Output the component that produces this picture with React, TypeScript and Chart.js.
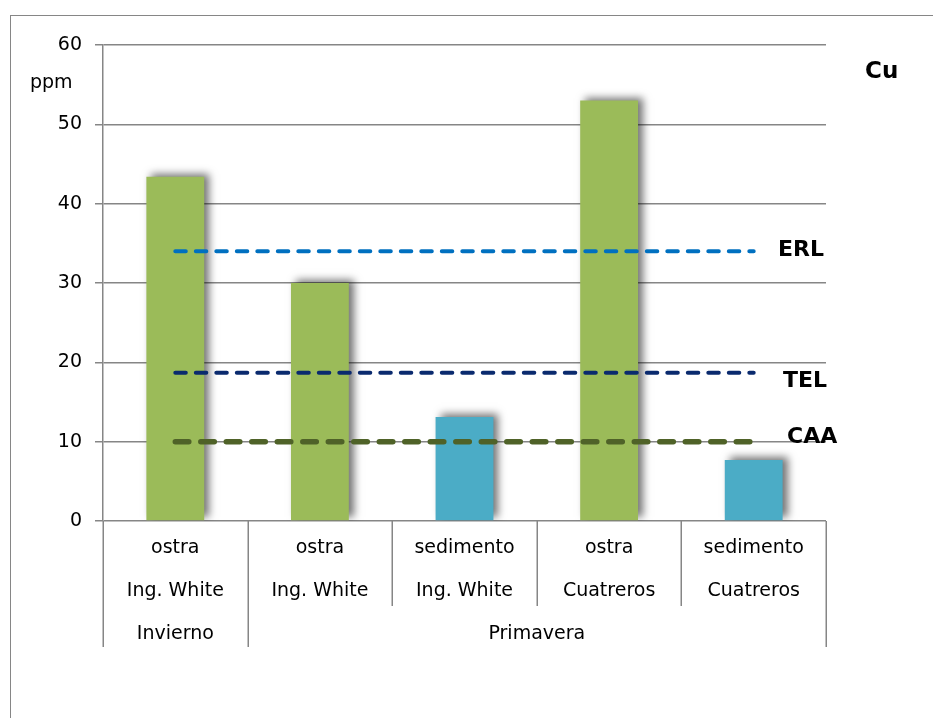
import React, { useEffect, useRef } from "react";
import { Chart, registerables } from "chart.js";

Chart.register(...registerables);

// ---- data ----
const sampleTypes = ["ostra", "ostra", "sedimento", "ostra", "sedimento"];
const sites = ["Ing. White", "Ing. White", "Ing. White", "Cuatreros", "Cuatreros"];
const seasons = ["Invierno", "Primavera"];
const seasonSpans = [1, 4];
const cuValues = [43.4, 30.0, 13.1, 53.0, 7.7];
const barColors = ["#9BBB59", "#9BBB59", "#4BACC6", "#9BBB59", "#4BACC6"];
const erlValues = [34, 34, 34, 34, 34];
const telValues = [18.7, 18.7, 18.7, 18.7, 18.7];
const caaValues = [10, 10, 10, 10, 10];
const yMin = 0;
const yMax = 60;
const yStep = 10;
const elementLabel = "Cu";
const unitLabel = "ppm";

const FONT = "'DejaVu Sans', Verdana, sans-serif";
const GRID = "#868686";

const lineLabelOffsets: Record<string, number> = { ERL: 5, TEL: 14, CAA: 1 };
const lineLabelX: Record<string, number> = { ERL: 778, TEL: 783, CAA: 787 };

const barShadowPlugin = {
  id: "barShadow",
  beforeDatasetDraw(chart: any, args: any) {
    const ds = chart.data.datasets[args.index];
    if (ds.type === "bar") {
      const ctx = chart.ctx;
      ctx.save();
      ctx.shadowColor = "rgba(0,0,0,0.55)";
      ctx.shadowBlur = 8;
      ctx.shadowOffsetX = 5;
      ctx.shadowOffsetY = -3;
    }
  },
  afterDatasetDraw(chart: any, args: any) {
    const ds = chart.data.datasets[args.index];
    if (ds.type === "bar") {
      chart.ctx.restore();
    }
  },
};

const decorPlugin = {
  id: "decor",
  beforeDraw(chart: any) {
    const ctx = chart.ctx;
    ctx.save();
    ctx.fillStyle = "#ffffff";
    ctx.fillRect(0, 0, chart.width, chart.height);
    ctx.strokeStyle = GRID;
    ctx.lineWidth = 1;
    ctx.strokeRect(10.5, 15.5, 3000, 3000);
    ctx.restore();
  },
  afterDraw(chart: any) {
    const ctx = chart.ctx;
    const xs = chart.scales.x;
    const ys = chart.scales.y;
    const top = xs.top;
    ctx.save();
    // separators of the multi-level category axis
    ctx.strokeStyle = GRID;
    ctx.lineWidth = 1.5;
    const groupBounds: number[] = [0];
    seasonSpans.forEach((s) => groupBounds.push(groupBounds[groupBounds.length - 1] + s));
    for (let i = 0; i <= sampleTypes.length; i++) {
      const px = Math.round(xs.getPixelForValue(i - 0.5)) + 0.25;
      const tall = groupBounds.includes(i);
      ctx.beginPath();
      ctx.moveTo(px, top);
      ctx.lineTo(px, top + (tall ? 126 : 85));
      ctx.stroke();
    }
    // season row
    ctx.fillStyle = "#000";
    ctx.font = `19px ${FONT}`;
    ctx.textAlign = "center";
    ctx.textBaseline = "middle";
    seasons.forEach((s, k) => {
      const a = xs.getPixelForValue(groupBounds[k] - 0.5);
      const b = xs.getPixelForValue(groupBounds[k + 1] - 0.5);
      ctx.fillText(s, (a + b) / 2, top + 6 + 43 * 2.5);
    });
    // unit label
    ctx.textAlign = "left";
    ctx.textBaseline = "alphabetic";
    ctx.font = `19px ${FONT}`;
    ctx.fillText(unitLabel, 30, 88);
    // element label
    ctx.font = `bold 23px ${FONT}`;
    ctx.fillText(elementLabel, 865, 78);
    // reference line labels
    ctx.font = `bold 22px ${FONT}`;
    chart.data.datasets.forEach((ds: any) => {
      if (ds.type !== "line") return;
      const yv = ys.getPixelForValue(ds.data[ds.data.length - 1]);
      ctx.fillText(ds.label, lineLabelX[ds.label] ?? 780, yv + (lineLabelOffsets[ds.label] ?? 5));
    });
    ctx.restore();
  },
};

export default function App() {
  const ref = useRef<HTMLCanvasElement | null>(null);
  useEffect(() => {
    if (!ref.current) return;
    const labels = sampleTypes.map((t, i) => [t, sites[i]]);
    const chart = new Chart(ref.current, {
      type: "bar",
      data: {
        labels,
        datasets: [
          {
            type: "line",
            label: "ERL",
            data: erlValues,
            borderColor: "#0070C0",
            borderWidth: 4,
            borderDash: [10.5, 10],
            borderCapStyle: "round",
            pointRadius: 0,
            fill: false,
            order: 0,
          } as any,
          {
            type: "line",
            label: "TEL",
            data: telValues,
            borderColor: "#0A2A6E",
            borderWidth: 4,
            borderDash: [10.5, 10],
            borderCapStyle: "round",
            pointRadius: 0,
            fill: false,
            order: 0,
          } as any,
          {
            type: "line",
            label: "CAA",
            data: caaValues,
            borderColor: "#4F6228",
            borderWidth: 5.5,
            borderDash: [13.5, 12],
            borderCapStyle: "round",
            pointRadius: 0,
            fill: false,
            order: 0,
          } as any,
          {
            type: "bar",
            label: elementLabel,
            data: cuValues,
            backgroundColor: barColors,
            borderWidth: 0,
            barPercentage: 0.4,
            categoryPercentage: 1,
            order: 1,
          } as any,
        ],
      },
      options: {
        responsive: false,
        animation: false,
        devicePixelRatio: 1,
        layout: { padding: { top: 45, right: 107, left: 0, bottom: 0 } },
        plugins: { legend: { display: false }, tooltip: { enabled: false } },
        scales: {
          x: {
            type: "category",
            grid: { display: false, drawTicks: false },
            border: { display: false },
            ticks: {
              color: "#000",
              font: { family: FONT, size: 19, lineHeight: "43px" } as any,
              padding: 6,
              maxRotation: 0,
              autoSkip: false,
            },
            afterFit: (s: any) => {
              s.height = 197;
            },
          },
          y: {
            min: yMin,
            max: yMax,
            grid: { color: GRID, lineWidth: 1.5, tickLength: 8, drawTicks: true },
            border: { display: true, color: GRID, width: 1.5 },
            ticks: {
              stepSize: yStep,
              color: "#000",
              font: { family: FONT, size: 19 },
              padding: 13,
            },
            afterFit: (s: any) => {
              s.width = 103;
            },
          },
        },
      },
      plugins: [barShadowPlugin, decorPlugin],
    });
    return () => chart.destroy();
  }, []);
  return (
    <div style={{ position: "fixed", left: 0, top: 0, width: 933, height: 718, background: "#fff" }}>
      <canvas ref={ref} width={933} height={718} style={{ display: "block" }} />
    </div>
  );
}
